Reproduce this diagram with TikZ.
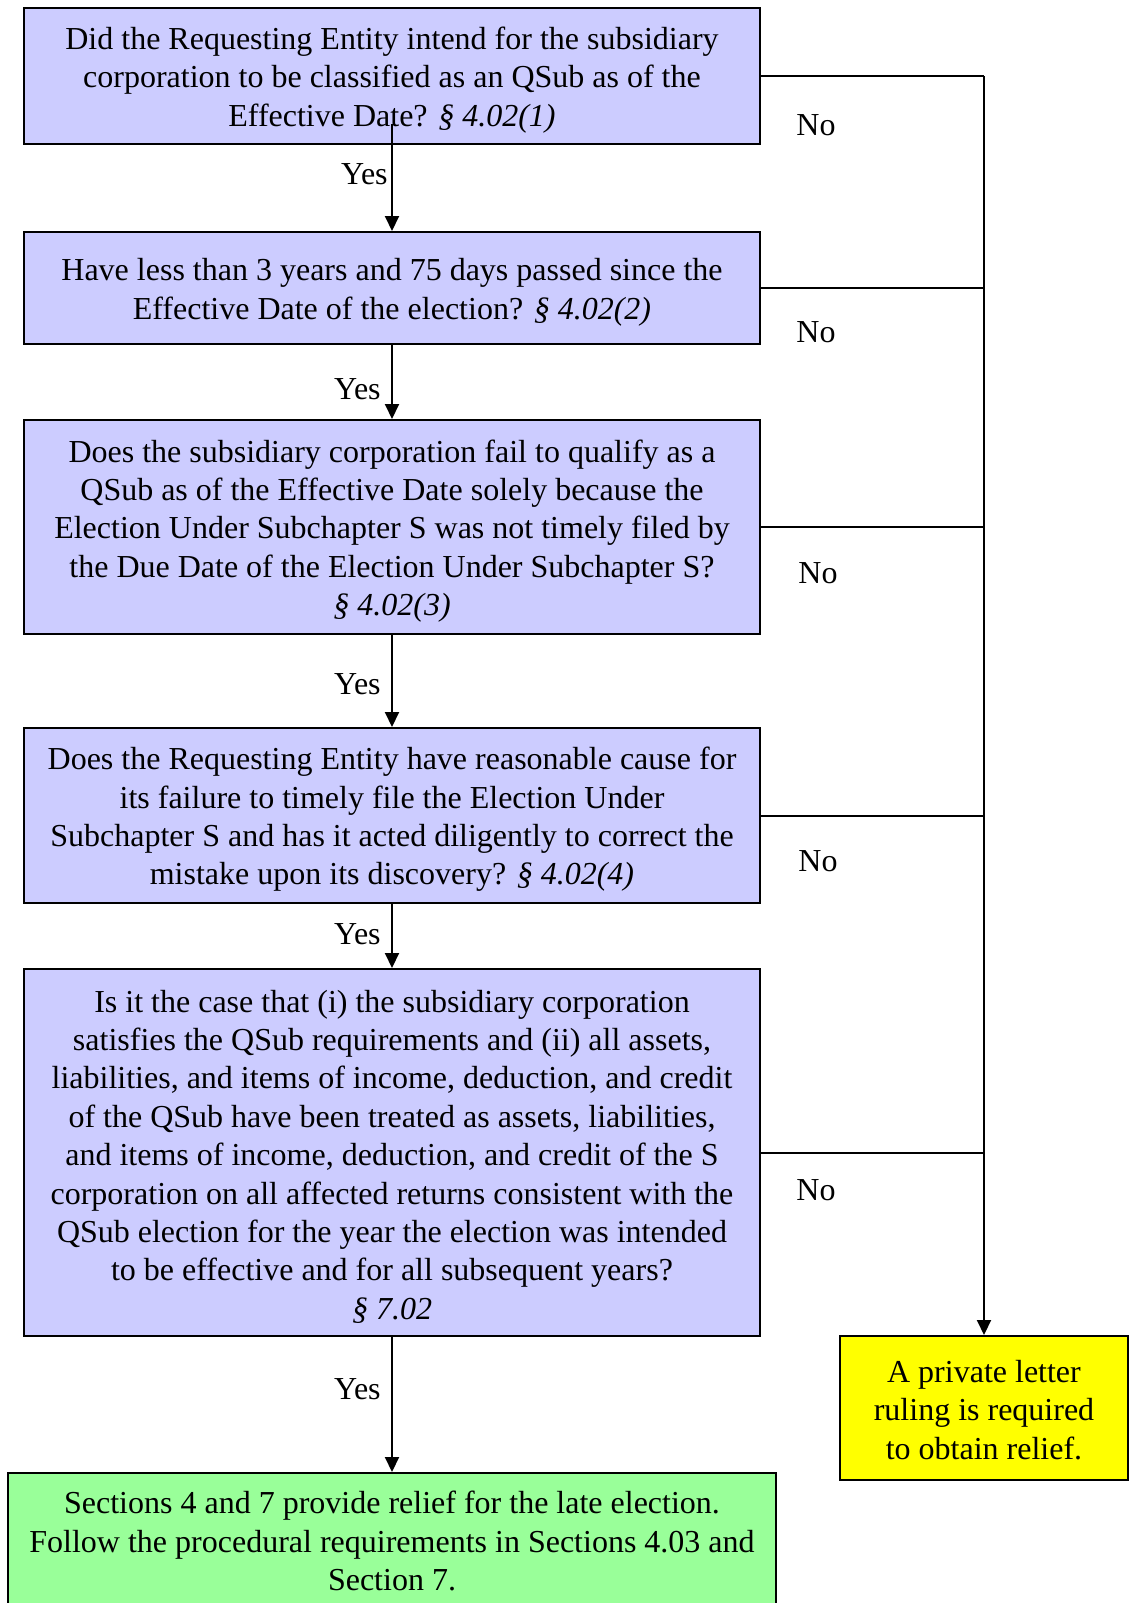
\documentclass[tikz,border=0pt]{standalone}
\usepackage{fontspec}
\setmainfont{Liberation Serif}
\usetikzlibrary{arrows.meta}
\definecolor{qblue}{HTML}{CCCCFF}
\definecolor{okgreen}{HTML}{99FF99}
\definecolor{plyellow}{HTML}{FFFF00}
\newcommand\qtop{\rule{0pt}{30.5pt}}
\begin{document}
\begin{tikzpicture}[x=1pt, y=-1pt, >={Triangle[length=15pt,width=14pt]}, line width=2pt,
    txt/.style={font=\fontsize{32}{38.4}\selectfont},
    qbox/.style={txt, draw, fill=qblue, minimum width=736pt, align=center, inner sep=0pt},
    yes/.style={txt, left, xshift=-7pt}]
\useasboundingbox (0,0) rectangle (1133,1603);

\node[qbox, minimum height=136pt](q1) at (392,76){\qtop Did the Requesting Entity intend for the subsidiary\\
corporation to be classified as an QSub as of the\\ Effective Date? \textit{§ 4.02(1)}};
\node[qbox, minimum height=112pt](q2) at (392,288){\qtop Have less than 3 years and 75 days passed since the\\
Effective Date of the election? \textit{§ 4.02(2)}};
\node[qbox, minimum height=214pt](q3) at (392,527){\qtop Does the subsidiary corporation fail to qualify as a\\
QSub as of the Effective Date solely because the\\ Election Under Subchapter S was not timely filed by\\
the Due Date of the Election Under Subchapter S?\\ \textit{§ 4.02(3)}};
\node[qbox, minimum height=175pt](q4) at (392,815.5){\qtop Does the Requesting Entity have reasonable cause for\\
its failure to timely file the Election Under\\ Subchapter S and has it acted diligently to correct the\\
mistake upon its discovery? \textit{§ 4.02(4)}};
\node[qbox, minimum height=367pt](q5) at (392,1152.5){\qtop Is it the case that (i) the subsidiary corporation\\
satisfies the QSub requirements and (ii) all assets,\\ liabilities, and items of income, deduction, and credit\\
of the QSub have been treated as assets, liabilities,\\ and items of income, deduction, and credit of the S\\
corporation on all affected returns consistent with the\\ QSub election for the year the election was intended\\
to be effective and for all subsequent years?\\ \textit{§ 7.02}};

\node[txt, draw, fill=okgreen, minimum width=768pt, minimum height=136pt, align=center, inner sep=0pt](ok) at (392,1541)
{Sections 4 and 7 provide relief for the late election.\\ Follow the procedural requirements in Sections 4.03 and\\ Section 7.};
\node[txt, draw, fill=plyellow, minimum width=288pt, minimum height=144pt, align=center, inner sep=0pt](plr) at (984,1408)
{\rule{0pt}{26pt}A private letter\\ ruling is required\\ to obtain relief.};

% yes
\draw[->]([yshift=21pt]q1.south)--node[yes, pos=.47, xshift=7pt](y1){Yes}(q2);
\draw[->](q2)--node[yes, pos=.6](y2){Yes}(q3);
\draw[->](q3)--node[yes, pos=.53](y3){Yes}(q4);
\draw[->](q4)--node[yes, pos=.47](y4){Yes}(q5);
\draw[->](q5)--node[yes, pos=.39](y5){Yes}(ok);

% no
\coordinate(r1) at (q1.east -| plr.north);
\draw(q1.east)--(r1);
\draw[->](r1)--(plr);
\draw(q2.east)--(q2.east -| plr.north);
\draw(q3.east)--(q3.east -| plr.north);
\draw(q4.east)--(q4.east -| plr.north);
\draw(q5.east)--(q5.east -| plr.north);
\node[txt](n1) at (816,125){No};
\node[txt](n2) at (816,332){No};
\node[txt](n3) at (818,573){No};
\node[txt](n4) at (818,861){No};
\node[txt](n5) at (816,1190){No};

\end{tikzpicture}
\end{document}
